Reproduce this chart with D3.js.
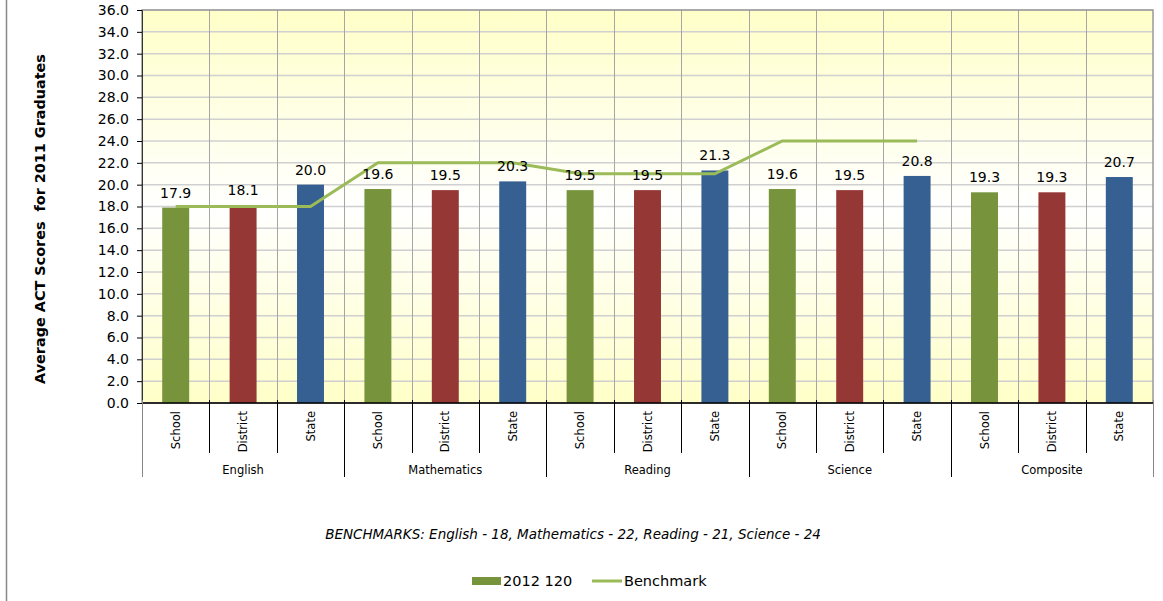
<!DOCTYPE html>
<html>
<head>
<meta charset="utf-8">
<script src="https://cdn.jsdelivr.net/npm/d3@7"></script>
<style>
  body { margin: 0; background: #fff; }
  text { font-family: "DejaVu Sans", Verdana, sans-serif; fill: #000; }
</style>
</head>
<body>
<svg id="chart" width="1163" height="601"></svg>
<script>
// data
var subjects = ["English", "Mathematics", "Reading", "Science", "Composite"];
var levels = ["School", "District", "State"];
var scores = [
    [17.9, 18.1, 20.0],
    [19.6, 19.5, 20.3],
    [19.5, 19.5, 21.3],
    [19.6, 19.5, 20.8],
    [19.3, 19.3, 20.7]
];
var benchmarks = [18, 22, 21, 24, null];
var levelColors = ["#77933C", "#953735", "#376092"];
var yTicks = d3.range(0, 37, 2);

var svg = d3.select("#chart");
var plotLeft = 142, plotRight = 1153, plotTop = 10, plotBottom = 403;

var items = [];
subjects.forEach(function(s, i) {
    levels.forEach(function(l, j) {
        items.push({id: s + "|" + l, subject: s, level: l, li: j, value: scores[i][j], bench: benchmarks[i]});
    });
});

var x = d3.scaleBand().domain(items.map(d => d.id)).range([plotLeft, plotRight]).padding(0);
var y = d3.scaleLinear().domain([0, 36]).range([plotBottom, plotTop]);
var bw = x.bandwidth();

// outer border on the left
svg.append("line").attr("x1", 6.5).attr("x2", 6.5).attr("y1", 0).attr("y2", 601)
    .attr("stroke", "#888").attr("stroke-width", 1.5);

// background gradient yellow - white - yellow
var grad = svg.append("defs").append("linearGradient").attr("id", "bg")
    .attr("x1", 0).attr("y1", 0).attr("x2", 0).attr("y2", 1);
grad.append("stop").attr("offset", "0%").attr("stop-color", "#FFFFC8");
grad.append("stop").attr("offset", "50%").attr("stop-color", "#FFFFFF");
grad.append("stop").attr("offset", "100%").attr("stop-color", "#FFFFC8");

svg.append("rect").attr("x", plotLeft).attr("y", plotTop)
    .attr("width", plotRight - plotLeft).attr("height", plotBottom - plotTop)
    .attr("fill", "url(#bg)");

// horizontal gridlines
svg.append("g").selectAll("line").data(yTicks).enter().append("line")
    .attr("x1", plotLeft).attr("x2", plotRight)
    .attr("y1", d => y(d)).attr("y2", d => y(d))
    .attr("stroke", "#D0D0D0").attr("stroke-width", 1.5);

// vertical gridlines at category boundaries
svg.append("g").selectAll("line").data(items.slice(1)).enter().append("line")
    .attr("x1", d => Math.round(x(d.id)) + 0.5).attr("x2", d => Math.round(x(d.id)) + 0.5)
    .attr("y1", plotTop).attr("y2", plotBottom)
    .attr("stroke", "#A6A6A6").attr("stroke-width", 1);

// plot border
svg.append("rect").attr("x", plotLeft).attr("y", plotTop)
    .attr("width", plotRight - plotLeft).attr("height", plotBottom - plotTop)
    .attr("fill", "none").attr("stroke", "#999").attr("stroke-width", 1.5);

// bars
svg.append("g").selectAll("rect").data(items).enter().append("rect")
    .attr("x", d => x(d.id) + bw * 0.3)
    .attr("width", bw * 0.4)
    .attr("y", d => y(d.value))
    .attr("height", d => y(0) - y(d.value))
    .attr("fill", d => levelColors[d.li]);

// benchmark line
var line = d3.line()
    .defined(d => d.bench != null)
    .x(d => x(d.id) + bw / 2)
    .y(d => y(d.bench));
svg.append("path").datum(items).attr("d", line)
    .attr("fill", "none").attr("stroke", "#9BBB59").attr("stroke-width", 3);

// value labels
svg.append("g").selectAll("text").data(items).enter().append("text")
    .attr("x", d => x(d.id) + bw / 2)
    .attr("y", d => y(d.value) - 10)
    .attr("text-anchor", "middle")
    .style("font-size", "14px")
    .text(d => d.value.toFixed(1));

// y axis
var yAxis = svg.append("g").attr("transform", `translate(${plotLeft},0)`)
    .call(d3.axisLeft(y).tickValues(yTicks).tickFormat(d3.format(".1f")).tickSize(5).tickPadding(8));
yAxis.select(".domain").attr("stroke", "#333");
yAxis.selectAll(".tick line").attr("stroke", "#000");
yAxis.selectAll("text").style("font-size", "14px").style("font-family", "DejaVu Sans, Verdana, sans-serif");

// x axis line
svg.append("line").attr("x1", plotLeft).attr("x2", plotRight).attr("y1", plotBottom).attr("y2", plotBottom)
    .attr("stroke", "#000").attr("stroke-width", 1.5);

// category separators below the axis
var bounds = x.domain().map(d => x(d)).concat([plotRight]);
svg.append("g").selectAll("line").data(bounds).enter().append("line")
    .attr("x1", d => Math.round(d) + 0.5).attr("x2", d => Math.round(d) + 0.5)
    .attr("y1", plotBottom - 3)
    .attr("y2", (d, i) => i % 3 === 0 ? 477 : 453)
    .attr("stroke", (d, i) => (i === 0 || i === bounds.length - 1) ? "#888" : "#000")
    .attr("stroke-width", 1);

// category labels (rotated)
svg.append("g").selectAll("text").data(items).enter().append("text")
    .attr("transform", d => `translate(${x(d.id) + bw / 2},411) rotate(-90)`)
    .attr("text-anchor", "end")
    .attr("dy", "0.35em")
    .style("font-size", "11.5px")
    .text(d => d.level);

// group labels
svg.append("g").selectAll("text").data(subjects).enter().append("text")
    .attr("x", d => x(d + "|School") + bw * 1.5)
    .attr("y", 474)
    .attr("text-anchor", "middle")
    .style("font-size", "11.5px")
    .text(d => d);

// y axis title
svg.append("text")
    .attr("transform", "translate(45,219) rotate(-90)")
    .attr("text-anchor", "middle")
    .style("font-size", "14.4px").style("font-weight", "bold")
    .text("Average ACT Scores\u00a0 for 2011 Graduates");

// benchmark note
svg.append("text").attr("x", 573).attr("y", 539)
    .attr("text-anchor", "middle")
    .style("font-size", "13.5px").style("font-style", "italic")
    .text("BENCHMARKS: English - 18, Mathematics - 22, Reading - 21, Science - 24");

// legend
var lg = svg.append("g");
lg.append("rect").attr("x", 472).attr("y", 577).attr("width", 29).attr("height", 8).attr("fill", levelColors[0]);
lg.append("text").attr("x", 503).attr("y", 586).style("font-size", "14.5px").text("2012 120");
lg.append("line").attr("x1", 592).attr("x2", 622).attr("y1", 581).attr("y2", 581)
    .attr("stroke", "#9BBB59").attr("stroke-width", 3);
lg.append("text").attr("x", 624).attr("y", 586).style("font-size", "14.5px").text("Benchmark");
</script>
</body>
</html>
